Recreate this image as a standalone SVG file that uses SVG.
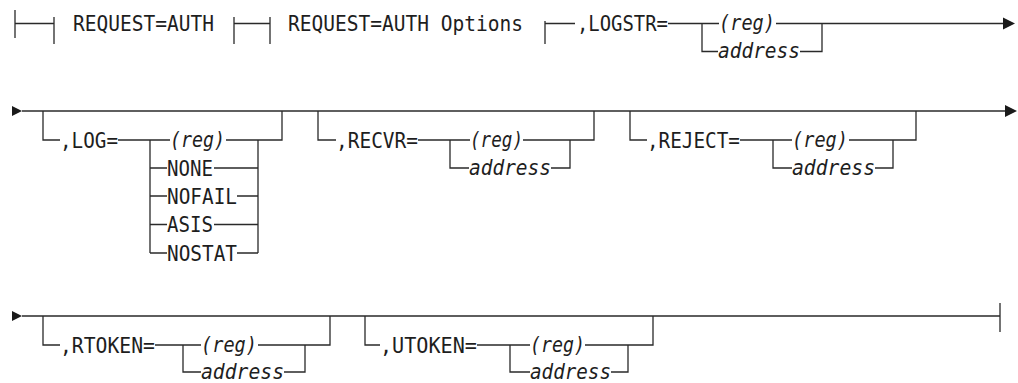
<svg xmlns="http://www.w3.org/2000/svg" width="1018" height="383" viewBox="0 0 1018 383">
<style>
.ln{stroke:#2a2a2a;stroke-width:1.3;fill:none}
.ah{fill:#1a1a1a}
text{font-family:"DejaVu Sans Mono","Liberation Mono",monospace;font-size:20.5px;fill:#1e1e1e}
.v{font-style:italic}
</style>
<rect width="1018" height="383" fill="#fff"/>
<g id="connectors">
<path class="ln" d="M15,10V38M15,23.5H54M54,17V44"/>
<path class="ln" d="M234,17V44M234,23.5H270M270,17V44"/>
<path class="ln" d="M545,21V44M545,23.5H575"/>
<path class="ln" d="M668,23.5H719M702,23.5V51.5H718M776,23.5H1004M822,23.5V51.5H800"/>
<polygon class="ah" points="1003,17.5 1015,23.5 1003,29.5"/>
<polygon class="ah" points="12,106 22,111 12,116"/>
<path class="ln" d="M22,111H1006"/>
<polygon class="ah" points="1005,105 1017,111 1005,117"/>
<path class="ln" d="M43,111V140H60M118,140H170M226,140H282V111M150,140V253M258,140V253"/>
<path class="ln" d="M150,168H167M214,168H258M150,196H167M237,196H258M150,224.5H167M214,224.5H258M150,253H167M237,253H258"/>
<path class="ln" d="M318,111V140H336M418,140H470M523,140H594V111M450,140V168H469M570,140V168H551"/>
<path class="ln" d="M630,111V140H647M740,140H792M849,140H916V111M773,140V168H792M893,140V168H875"/>
<polygon class="ah" points="12,311 22,316 12,321"/>
<path class="ln" d="M22,316H1000M1000,303V332"/>
<path class="ln" d="M43,316V345H60M155,345H201M258,345H330V316M183,345V372H201M305,345V372H284"/>
<path class="ln" d="M365,316V345H380M477,345H530M585,345H653V316M510,345V372H530M628,345V372H611"/>
</g>
<g id="n-request-auth"><text x="73" y="31" textLength="141" lengthAdjust="spacingAndGlyphs">REQUEST=AUTH</text></g>
<g id="n-options"><text x="288" y="31" textLength="235" lengthAdjust="spacingAndGlyphs">REQUEST=AUTH Options</text></g>
<g id="n-logstr"><text x="577" y="31" textLength="91" lengthAdjust="spacingAndGlyphs">,LOGSTR=</text>
<text class="v" x="719" y="30" textLength="56" lengthAdjust="spacingAndGlyphs">(reg)</text>
<text class="v" x="718" y="58" textLength="82" lengthAdjust="spacingAndGlyphs">address</text></g>
<g id="n-log"><text x="60" y="147.5" textLength="58" lengthAdjust="spacingAndGlyphs">,LOG=</text>
<text class="v" x="170" y="146.5" textLength="55" lengthAdjust="spacingAndGlyphs">(reg)</text>
<text x="167" y="175.5" textLength="46" lengthAdjust="spacingAndGlyphs">NONE</text>
<text x="167" y="203.5" textLength="70" lengthAdjust="spacingAndGlyphs">NOFAIL</text>
<text x="167" y="232" textLength="46" lengthAdjust="spacingAndGlyphs">ASIS</text>
<text x="167" y="260.5" textLength="70" lengthAdjust="spacingAndGlyphs">NOSTAT</text></g>
<g id="n-recvr"><text x="336" y="147.5" textLength="82" lengthAdjust="spacingAndGlyphs">,RECVR=</text>
<text class="v" x="470" y="146.5" textLength="53" lengthAdjust="spacingAndGlyphs">(reg)</text>
<text class="v" x="469" y="174.5" textLength="82" lengthAdjust="spacingAndGlyphs">address</text></g>
<g id="n-reject"><text x="647" y="147.5" textLength="93" lengthAdjust="spacingAndGlyphs">,REJECT=</text>
<text class="v" x="792" y="146.5" textLength="56" lengthAdjust="spacingAndGlyphs">(reg)</text>
<text class="v" x="792" y="174.5" textLength="83" lengthAdjust="spacingAndGlyphs">address</text></g>
<g id="n-rtoken"><text x="60" y="352.5" textLength="95" lengthAdjust="spacingAndGlyphs">,RTOKEN=</text>
<text class="v" x="201" y="351.5" textLength="56" lengthAdjust="spacingAndGlyphs">(reg)</text>
<text class="v" x="201" y="378.5" textLength="83" lengthAdjust="spacingAndGlyphs">address</text></g>
<g id="n-utoken"><text x="380" y="352.5" textLength="97" lengthAdjust="spacingAndGlyphs">,UTOKEN=</text>
<text class="v" x="530" y="351.5" textLength="55" lengthAdjust="spacingAndGlyphs">(reg)</text>
<text class="v" x="530" y="378.5" textLength="81" lengthAdjust="spacingAndGlyphs">address</text></g>
</svg>
